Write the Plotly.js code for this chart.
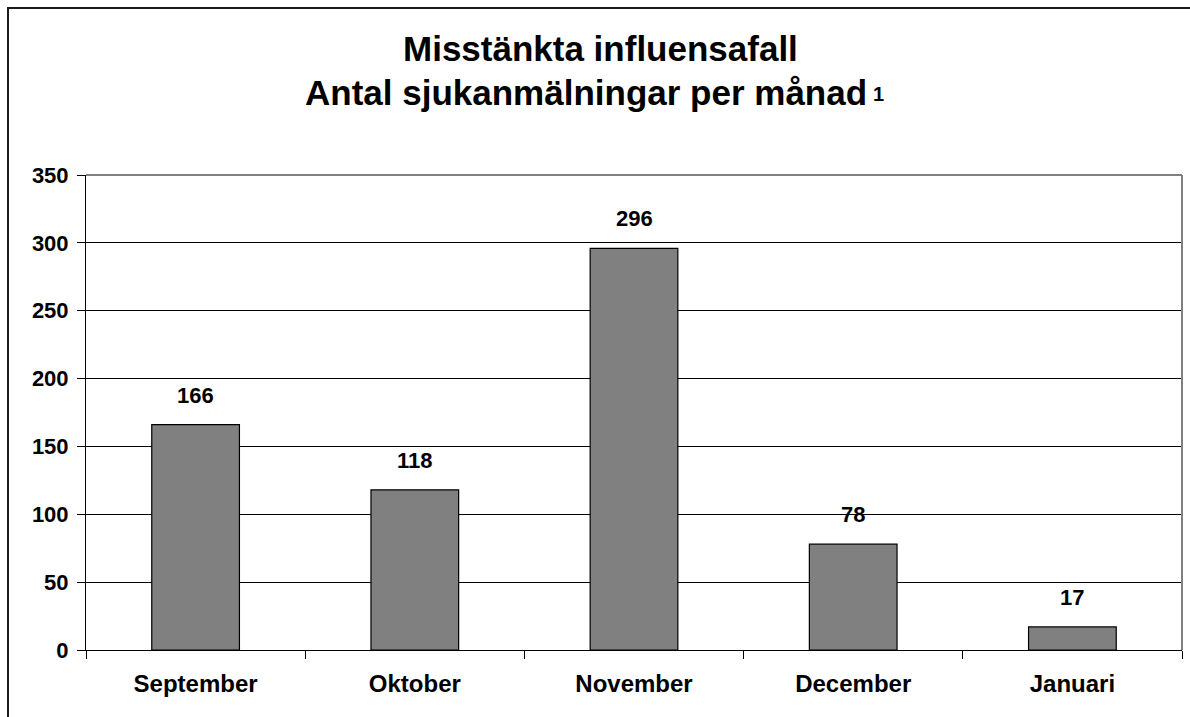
<!DOCTYPE html>
<html>
<head>
<meta charset="utf-8">
<script src="https://cdn.plot.ly/plotly-3.0.1.min.js"></script>
<style>
  html, body { margin: 0; padding: 0; background: #fff; overflow: hidden; }
  #chart { position: absolute; left: 0; top: 0; width: 1190px; height: 717px; }
  #frame { position: absolute; left: 7px; top: 7px; width: 1300px; height: 800px;
           border: 2px solid #1a1a1a; pointer-events: none; }
</style>
</head>
<body>
<div id="chart"></div>
<div id="frame"></div>
<script>
const months = ["September", "Oktober", "November", "December", "Januari"];
const cases = [166, 118, 296, 78, 17];
const yTicks = [0, 50, 100, 150, 200, 250, 300, 350];
const titleLine1 = "Misstänkta influensafall";
const titleLine2 = "Antal sjukanmälningar per månad";
const footnoteMark = "1";

const FONT = "Liberation Sans, Arial, sans-serif";

const trace = {
  type: "bar",
  x: months,
  y: cases,
  marker: { color: "#808080", line: { color: "#000000", width: 1.2 } },
  hoverinfo: "x+y"
};

const labels = months.map((m, i) => ({
  x: m, y: cases[i], xref: "x", yref: "y",
  text: "<b>" + cases[i] + "</b>",
  showarrow: false, yanchor: "bottom", yshift: 15,
  font: { family: FONT, size: 22, color: "#000" }
}));

// plot area: x 86..1182px, y 175..650px
const px = p => (p - 86) / 1096;
const py = p => (650 - p) / 475;

const titleAnns = [
  { xref: "paper", yref: "paper", x: px(600), y: py(48),
    xanchor: "center", yanchor: "middle", showarrow: false,
    text: "<b>" + titleLine1 + "</b>",
    font: { family: FONT, size: 35, color: "#000" } },
  { xref: "paper", yref: "paper", x: px(586), y: py(92),
    xanchor: "center", yanchor: "middle", showarrow: false,
    text: "<b>" + titleLine2 + "</b>",
    font: { family: FONT, size: 35, color: "#000" } },
  { xref: "paper", yref: "paper", x: px(878), y: py(94),
    xanchor: "center", yanchor: "middle", showarrow: false,
    text: "<b>" + footnoteMark + "</b>",
    font: { family: FONT, size: 20, color: "#000" } }
];

const layout = {
  width: 1190, height: 717,
  paper_bgcolor: "#ffffff", plot_bgcolor: "#ffffff",
  margin: { l: 86, r: 8, t: 175, b: 67 },
  showlegend: false,
  bargap: 0.6,
  xaxis: {
    type: "category",
    showline: true, linecolor: "#000", linewidth: 1,
    ticks: "outside", ticklen: 8, tickcolor: "#000", tickwidth: 1,
    tickson: "boundaries",
    showgrid: false, zeroline: false,
    tickfont: { family: FONT, size: 24, color: "#000", weight: "bold" },
    ticklabelstandoff: 12,
    fixedrange: true
  },
  yaxis: {
    range: [0, 350],
    tickvals: yTicks,
    ticktext: yTicks.map(v => "<b>" + v + "</b>"),
    showline: true, linecolor: "#000", linewidth: 1,
    ticks: "outside", ticklen: 8, tickcolor: "#000", tickwidth: 1,
    showgrid: true, gridcolor: "#000", gridwidth: 1,
    zeroline: false,
    tickfont: { family: FONT, size: 22, color: "#000" },
    ticklabelstandoff: 4,
    fixedrange: true
  },
  shapes: [
    { type: "line", xref: "paper", yref: "paper", x0: 0, x1: 1, y0: 1, y1: 1,
      line: { color: "#808080", width: 2 }, layer: "above" },
    { type: "line", xref: "paper", yref: "paper", x0: 1, x1: 1, y0: 0, y1: 1,
      line: { color: "#808080", width: 2 }, layer: "above" }
  ],
  annotations: titleAnns.concat(labels)
};

Plotly.newPlot("chart", [trace], layout, { displayModeBar: false, staticPlot: true });
</script>
</body>
</html>
